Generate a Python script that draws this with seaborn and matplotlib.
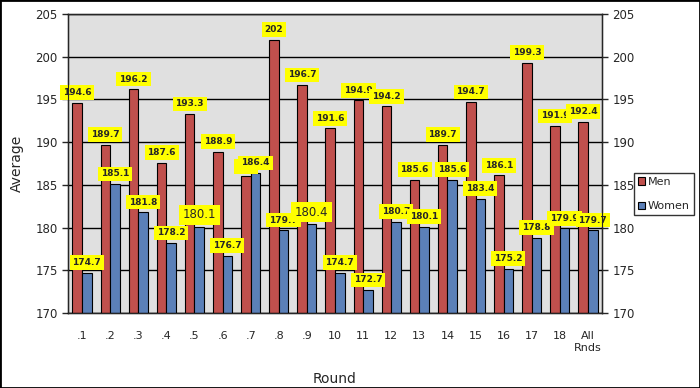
# Grouped bar chart: average by round, men vs women

import seaborn as sns
import matplotlib.pyplot as plt
import pandas as pd
from matplotlib.patches import Rectangle

rounds = ['.1', '.2', '.3', '.4', '.5', '.6', '.7', '.8', '.9', '10',
          '11', '12', '13', '14', '15', '16', '17', '18', 'All\nRnds']
men = [194.6, 189.7, 196.2, 187.6, 193.3, 188.9, 186.0, 202.0, 196.7, 191.6,
       194.9, 194.2, 185.6, 189.7, 194.7, 186.1, 199.3, 191.9, 192.4]
women = [174.7, 185.1, 181.8, 178.2, 180.1, 176.7, 186.4, 179.7, 180.4, 174.7,
         172.7, 180.7, 180.1, 185.6, 183.4, 175.2, 178.8, 179.9, 179.7]

df = pd.DataFrame({
    'Round': rounds * 2,
    'Average': men + women,
    'Group': ['Men'] * len(rounds) + ['Women'] * len(rounds),
})

sns.set_style('white')
plt.rcParams['font.family'] = ['DejaVu Sans']

fig = plt.figure(figsize=(7, 3.88), dpi=100)
ax = fig.add_axes([68 / 700, 75 / 388, 534 / 700, 299 / 388])
ax.set_facecolor('#e0e0e0')

sns.barplot(data=df, x='Round', y='Average', hue='Group', ax=ax,
            palette={'Men': '#c0504d', 'Women': '#5b80b8'},
            width=0.68, edgecolor='black', linewidth=0.8, saturation=1)

ax.set_ylim(170, 205)
ax.set_xlim(-0.5, len(rounds) - 0.5)
ax.set_yticks(range(170, 206, 5))
ax.yaxis.grid(True, color='black', linewidth=1)
ax.set_axisbelow(True)

# ticks between categories on x
ax.set_xticks([i + 0.5 for i in range(-1, len(rounds))], minor=True)
ax.tick_params(axis='x', which='minor', length=5, width=1, color='black', direction='out')
ax.tick_params(axis='x', which='major', length=0, pad=13, labelsize=8)
ax.tick_params(axis='y', length=4, width=1, direction='out', labelsize=8.5, left=True)
for s in ax.spines.values():
    s.set_color('black')
    s.set_linewidth(1)

ax.set_xlabel('Round', fontsize=10, labelpad=14)
ax.set_ylabel('Average', fontsize=10, labelpad=8)

ax2 = ax.twinx()
ax2.set_ylim(170, 205)
ax2.set_yticks(range(170, 206, 5))
ax2.tick_params(axis='y', length=4, width=1, direction='out', labelsize=8.5, right=True)
ax2.grid(False)

box = dict(facecolor='#ffff00', edgecolor='none', pad=2)
men_txt = ax.bar_label(ax.containers[0], labels=[f'{v:g}' for v in men],
                       padding=4, fontsize=6.5, fontweight='bold', bbox=box)
women_txt = ax.bar_label(ax.containers[1], labels=[f'{v:g}' for v in women],
                         padding=4, fontsize=6.5, fontweight='bold', bbox=box)
for t in men_txt + women_txt:
    t.set_clip_on(False)
for i in (4, 8):
    women_txt[i].set_fontsize(8.5)
    women_txt[i].set_fontweight('normal')

handles, labels = ax.get_legend_handles_labels()
ax.get_legend().remove()
leg = fig.legend(handles, labels, loc='upper left',
                 bbox_to_anchor=(634 / 700, 1 - 173 / 388),
                 fontsize=8, frameon=True, fancybox=False, edgecolor='black',
                 handlelength=0.6, handleheight=0.6, handletextpad=0.3,
                 borderpad=0.35, labelspacing=1.3, borderaxespad=0)
leg.get_frame().set_linewidth(1)

fig.patches.append(Rectangle((0, 0), 1, 1, transform=fig.transFigure,
                             fill=False, edgecolor='black', linewidth=2))

fig.savefig('out.png', dpi=100)
